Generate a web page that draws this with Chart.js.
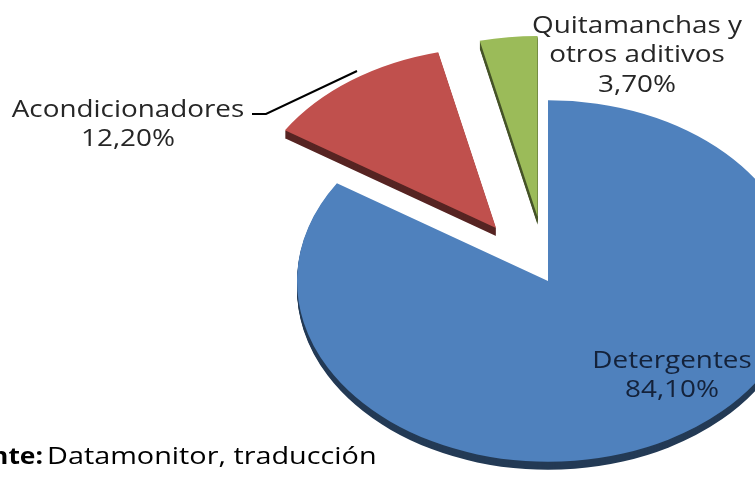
<!DOCTYPE html>
<html>
<head>
<meta charset="utf-8">
<script src="https://cdn.jsdelivr.net/npm/chart.js@4"></script>
<style>
  html, body { margin: 0; padding: 0; background: #fff; overflow: hidden; }
  #wrap { width: 755px; height: 478px; position: relative; }
</style>
</head>
<body>
<div id="wrap"><canvas id="chart_mercadoSuavizantes"></canvas></div>
<script>
// market split by segment (%)
var segmentos = ['Detergentes', 'Acondicionadores', 'Quitamanchas y otros aditivos'];
var participacion = [84.1, 12.2, 3.7];
var etiquetasPct = ['84,10%', '12,20%', '3,70%'];
var fuente = 'Datamonitor, traducción';

var colores = ['#4f81bd', '#c0504d', '#9bbb59'];
var separar = [0, 90, 90];   // explode distance per slice, px
var inclinacion = 0.72;      // vertical squash of the 3d pie
var grosor = 8;              // depth of the slice side

// draws the arcs squashed and exploded; dy moves the whole pie down (for the side)
function dibujarPorciones(ctx, chart, dy, filtro) {
    var meta = chart.getDatasetMeta(0);
    meta.data.forEach(function(arc, i) {
        var mid = (arc.startAngle + arc.endAngle) / 2;
        ctx.save();
        ctx.translate(arc.x, arc.y + dy);
        ctx.scale(1, inclinacion);
        ctx.translate(Math.cos(mid) * separar[i], Math.sin(mid) * separar[i]);
        ctx.translate(-arc.x, -arc.y);
        if (filtro) ctx.filter = filtro;
        arc.draw(ctx);
        ctx.restore();
    });
}

function texto(ctx, str, x, y, font, color, sx, align) {
    ctx.save();
    ctx.font = font;
    ctx.fillStyle = color;
    ctx.textAlign = align || 'center';
    ctx.textBaseline = 'alphabetic';
    ctx.translate(x, y);
    ctx.scale(sx, 1);
    ctx.fillText(str, 0, 0);
    ctx.restore();
}

var chart_mercadoSuavizantes = new Chart(document.getElementById('chart_mercadoSuavizantes'), {
    type: 'pie',
    data: {
        labels: segmentos,
        datasets: [
            {
                data: participacion,
                backgroundColor: colores,
                borderWidth: 0,
                clip: false
            }
        ]
    },
    options: {
        animation: false,
        responsive: true,
        maintainAspectRatio: false,
        events: [],
        radius: 251,
        layout: {
            padding: { left: 341, top: 84, right: 0, bottom: 0 }
        },
        plugins: {
            legend: { display: false },
            title: { display: false },
            tooltip: { enabled: false }
        }
    },
    plugins: [{
        id: 'pie3d',
        beforeDatasetsDraw: function(chart) {
            var ctx = chart.ctx;
            for (var d = grosor; d >= 1; d--) {
                dibujarPorciones(ctx, chart, d, 'brightness(0.45)');
            }
            dibujarPorciones(ctx, chart, 0, null);
            return false;
        },
        afterDraw: function(chart) {
            var ctx = chart.ctx;
            var f = '24px "Open Sans", sans-serif';
            var gris = '#262626';
            var sx = 1.16;

            // leader line for Acondicionadores
            ctx.save();
            ctx.strokeStyle = '#000';
            ctx.lineWidth = 2;
            ctx.beginPath();
            ctx.moveTo(252, 114);
            ctx.lineTo(266, 114);
            ctx.lineTo(357, 71);
            ctx.stroke();
            ctx.restore();

            texto(ctx, segmentos[1], 128, 117, f, gris, sx);
            texto(ctx, etiquetasPct[1], 128, 146, f, gris, sx);

            texto(ctx, 'Quitamanchas y', 637, 33, f, gris, sx);
            texto(ctx, 'otros aditivos', 637, 62, f, gris, sx);
            texto(ctx, etiquetasPct[2], 637, 92, f, gris, sx);

            texto(ctx, segmentos[0], 672, 368, f, '#14223a', sx);
            texto(ctx, etiquetasPct[0], 672, 397, f, '#14223a', sx);

            texto(ctx, 'Fuente:', 43, 464, 'bold 24px "Open Sans", sans-serif', '#000', 1.1, 'right');
            texto(ctx, fuente, 47, 464, f, '#000', 1.2, 'left');
        }
    }]
});
</script>
</body>
</html>
